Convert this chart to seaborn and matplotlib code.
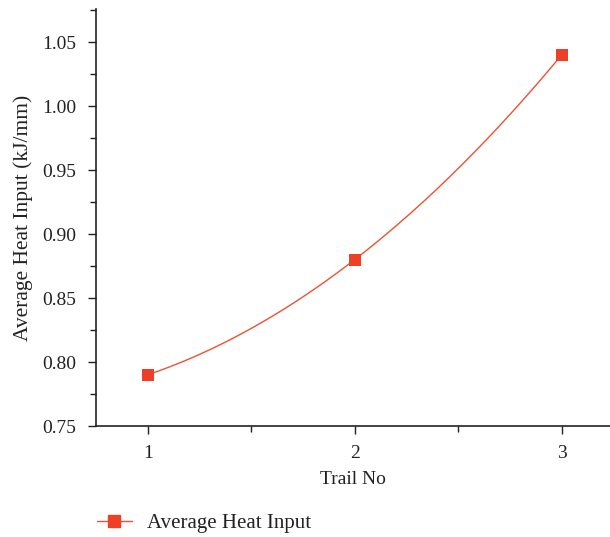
import numpy as np
import pandas as pd
import matplotlib
matplotlib.use("Agg")
import matplotlib.pyplot as plt
from matplotlib.ticker import MultipleLocator
from matplotlib.lines import Line2D
import seaborn as sns

trials = [1, 2, 3]
heat_input = [0.79, 0.88, 1.04]
series_name = "Average Heat Input"
y_ticks = [0.75, 0.80, 0.85, 0.90, 0.95, 1.00, 1.05]

sns.set_theme(style="ticks")
plt.rcParams['font.family'] = ['Liberation Serif', 'DejaVu Serif']

df = pd.DataFrame({"Trail No": trials, "heat": heat_input})

fig = plt.figure(figsize=(6.10, 5.37), dpi=100)
ax = fig.add_axes([96/610, 1-426/537, 1-96/610, (426-9)/537])

color_line = "#F0502F"
color_mark = "#EE4027"
dark = "#222222"

# smooth curve through the points (exact quadratic through the 3 data points)
coef = np.polyfit(trials, heat_input, 2)
xs = np.linspace(min(trials), max(trials), 200)
smooth = pd.DataFrame({"x": xs, "y": np.polyval(coef, xs)})
sns.lineplot(data=smooth, x="x", y="y", ax=ax, color=color_line, linewidth=1.0)
sns.scatterplot(data=df, x="Trail No", y="heat", ax=ax, marker="s", s=75,
                color=color_mark, edgecolor=color_mark, linewidth=0, zorder=3)

ax.set_xlim(0.75, 0.75 + 514/207)
ax.set_ylim(0.75, 1.0758)
ax.xaxis.set_minor_locator(MultipleLocator(0.5))
ax.yaxis.set_minor_locator(MultipleLocator(0.025))
ax.set_yticks(y_ticks)
ax.set_yticklabels([f"{v:.2f}" for v in y_ticks])
ax.set_xticks(trials)
ax.set_xticklabels([str(t) for t in trials])

ax.tick_params(axis="both", which="major", length=6, width=1.0, color=dark,
               labelsize=14, labelcolor=dark, direction="out", pad=8)
ax.tick_params(axis="both", which="minor", length=4, width=1.0, color=dark, direction="out")
for s in ["top", "right"]:
    ax.spines[s].set_visible(False)
for s in ["left", "bottom"]:
    ax.spines[s].set_color(dark)
    ax.spines[s].set_linewidth(1.2)

ax.set_xlabel("Trail No", fontsize=14, color=dark, labelpad=6)
ax.set_ylabel("Average Heat Input (kJ/mm)", fontsize=15.5, color=dark, labelpad=7)

handle = Line2D([0], [0], color=color_line, linewidth=1.0, marker="s", markersize=8.6,
                markerfacecolor=color_mark, markeredgecolor=color_mark)
fig.legend([handle], [series_name], loc="center left", bbox_to_anchor=(78/610, 1-523/537),
           frameon=False, fontsize=15, handlelength=1.68, handletextpad=0.72,
           labelcolor=dark)

fig.savefig("out.png", dpi=100)
